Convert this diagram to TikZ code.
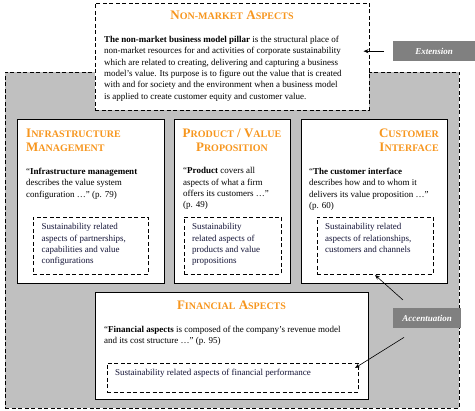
\documentclass[tikz,border=0pt]{standalone}
\usepackage{fontspec}
\setmainfont{Liberation Serif}
\usetikzlibrary{arrows.meta}
\definecolor{ttl}{RGB}{247,150,30}
\definecolor{bggray}{RGB}{192,192,192}
\definecolor{lblgray}{RGB}{128,128,128}
\definecolor{navy}{RGB}{20,20,55}
\newcommand\Cb[1]{{\fontsize{13}{14.3}\selectfont #1}}
\newcommand\Cs[1]{{\fontsize{10}{14.3}\selectfont #1}}
\begin{document}
\begin{tikzpicture}[x=1pt,y=-1pt,
  box/.style={draw=black, line width=1pt, fill=white, anchor=north west, inner sep=0pt, outer sep=0pt},
  dbox/.style={draw=black, line width=0.8pt, dash pattern=on 4pt off 2.5pt, fill=white, anchor=north west, inner sep=0pt, outer sep=0pt},
  txt/.style={anchor=north west, inner sep=0pt, align=left, font=\fontsize{9}{11.3}\selectfont},
  ntxt/.style={txt, text=navy},
  ttlnode/.style={text=ttl, inner sep=0pt, font=\fontsize{13}{14.3}\selectfont\bfseries},
  lbl/.style={fill=lblgray, text=white, font=\fontsize{9}{11}\selectfont\itshape\bfseries, inner sep=0pt, anchor=north west},
  arr/.style={-{Stealth[length=5pt,width=4pt]}, line width=0.6pt}
]
\path[use as bounding box] (0,0) rectangle (475,411);

% gray background region
\node[dbox, fill=bggray, minimum width=454pt, minimum height=336pt] (bg) at (5,72) {};

% top box
\node[dbox, minimum width=274pt, minimum height=107pt] (top) at (95,3) {};
\node[ttlnode, anchor=north] (toptitle) at (232,10.5) {\Cb{N}\Cs{ON-MARKET} \Cb{A}\Cs{SPECTS}};
\node[txt] (toptext) at (104,36) {\textbf{The non-market business model pillar} is the structural place of\\
non-market resources for and activities of corporate sustainability\\
which are related to creating, delivering and capturing a business\\
model’s value. Its purpose is to figure out the value that is created\\
with and for society and the environment when a business model\\
is applied to create customer equity and customer value.};

% three pillars
\node[box, minimum width=147pt, minimum height=164pt] (infra) at (17,120) {};
\node[box, minimum width=116pt, minimum height=164pt] (prod) at (174,120) {};
\node[box, minimum width=146pt, minimum height=164pt] (cust) at (301,120) {};

\node[ttlnode, anchor=north west, align=left] (infratitle) at (26,128.8) {\Cb{I}\Cs{NFRASTRUCTURE}\\\Cb{M}\Cs{ANAGEMENT}};
\node[ttlnode, anchor=north, align=center] (prodtitle) at (232,128.3) {\Cb{P}\Cs{RODUCT} / \Cb{V}\Cs{ALUE}\\\Cb{P}\Cs{ROPOSITION}};
\node[ttlnode, anchor=north east, align=right] (custtitle) at (439,128.8) {\Cb{C}\Cs{USTOMER}\\\Cb{I}\Cs{NTERFACE}};

\node[txt] (infratext) at (26,168) {“\textbf{Infrastructure management}\\describes the value system\\configuration …” (p. 79)};
\node[txt] (prodtext) at (183,167.5) {“\textbf{Product} covers all\\aspects of what a firm\\offers its customers …”\\(p. 49)};
\node[txt] (custtext) at (309,168) {“\textbf{The customer interface}\\describes how and to whom it\\delivers its value proposition …”\\(p. 60)};

\node[dbox, minimum width=115pt, minimum height=57pt] (infrain) at (33,217) {};
\node[dbox, minimum width=97pt, minimum height=57pt] (prodin) at (184,217) {};
\node[dbox, minimum width=116pt, minimum height=57pt] (custin) at (317,217) {};
\node[ntxt] (infraintext) at (41.5,223.5) {Sustainability related\\aspects of partnerships,\\capabilities and value\\configurations};
\node[ntxt] (prodintext) at (192,223.5) {Sustainability\\related aspects of\\products and value\\propositions};
\node[ntxt] (custintext) at (325,223.5) {Sustainability related\\aspects of relationships,\\customers and channels};

% financial
\node[box, minimum width=273pt, minimum height=107pt] (fin) at (95,293) {};
\node[ttlnode, anchor=north] (fintitle) at (231.5,301.2) {\Cb{F}\Cs{INANCIAL} \Cb{A}\Cs{SPECTS}};
\node[txt] (fintext) at (104,325.5) {“\textbf{Financial aspects} is composed of the company’s revenue model\\and its cost structure …” (p. 95)};
\node[dbox, minimum width=251pt, minimum height=29pt] (finin) at (107,363) {};
\node[ntxt] (finintext) at (115,369) {Sustainability related aspects of financial performance};

% labels
\node[lbl, minimum width=82pt, minimum height=20pt] (ext) at (393,41) {Extension};
\node[lbl, minimum width=68pt, minimum height=20pt] (acc) at (393,308) {Accentuation};

% arrows
\coordinate (extfrom) at ([xshift=-9pt]ext.west);
\coordinate (extto) at ([xshift=-5.5pt]top.east |- extfrom);
\draw[arr] (extfrom) -- (extto);
\coordinate (accfromA) at ([xshift=10pt,yshift=8pt]acc.north west);
\draw[arr] (accfromA) -- ([yshift=-1pt]custin.south);
\coordinate (accfromB) at ([xshift=11pt,yshift=-9pt]acc.south west);
\coordinate (fintip) at ([xshift=-3pt,yshift=-5pt]finin.north east);
\draw[arr] (accfromB) -- (fintip);
\end{tikzpicture}
\end{document}
